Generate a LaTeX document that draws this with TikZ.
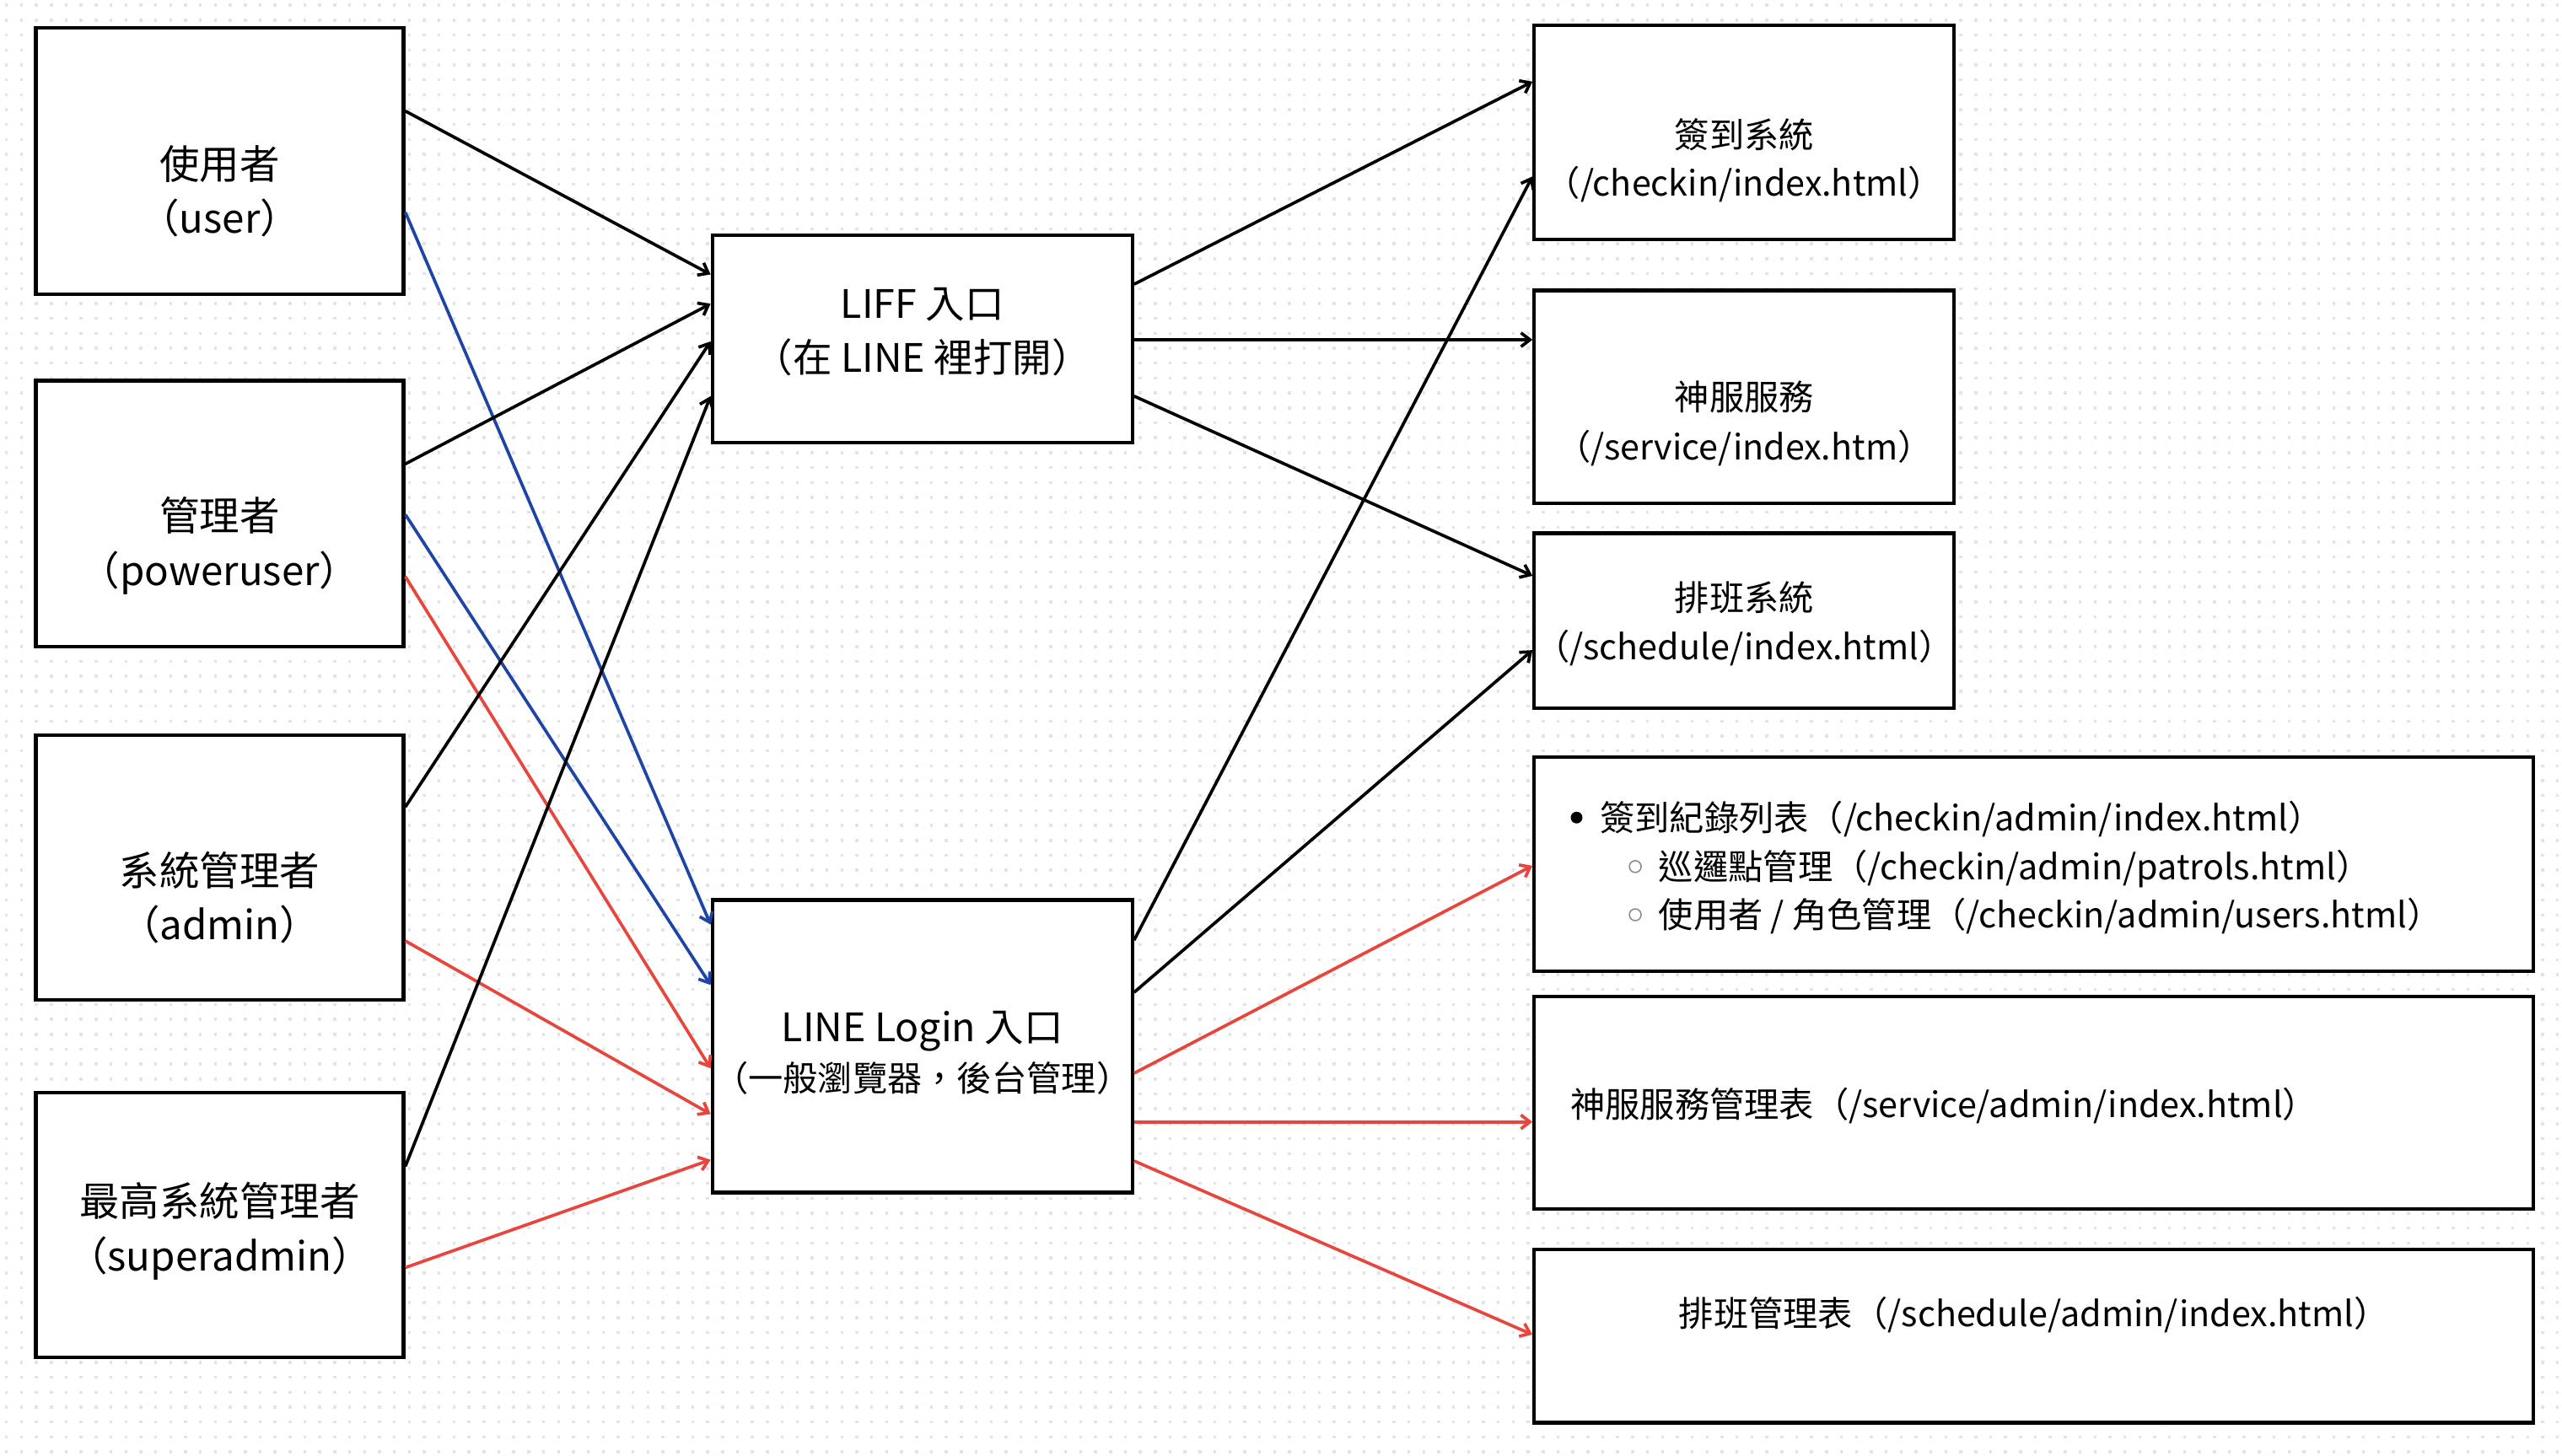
\documentclass[tikz,border=0pt]{standalone}
\usepackage{fontspec}
\setmainfont{Noto Sans CJK TC}
\usetikzlibrary{arrows.meta}
\definecolor{gridc}{HTML}{E2E3EA}
\definecolor{cred}{HTML}{E8453C}
\definecolor{cblue}{HTML}{1E45A6}
\definecolor{bulgray}{HTML}{8A8A8A}
\begin{document}
\begin{tikzpicture}[x=1pt,y=-1pt,
  box/.style={draw=black, line width=2.2pt, fill=white, rectangle, inner sep=0pt},
  conn/.style={line width=1.9pt, -{Straight Barb[length=5.5pt,width=8.5pt]}},
  cblk/.style={conn, draw=black},
  cblu/.style={conn, draw=cblue},
  cred/.style={conn, draw=cred},
  tl/.style={anchor=base, inner sep=0pt, font=\fontsize{24.5}{30}\selectfont},
  tm/.style={anchor=base, inner sep=0pt, font=\fontsize{24}{30}\selectfont},
  tms/.style={anchor=base, inner sep=0pt, font=\fontsize{21.3}{28}\selectfont},
  tr/.style={anchor=base, inner sep=0pt, font=\fontsize{21.3}{28}\selectfont},
  trw/.style={anchor=base west, inner sep=0pt, font=\fontsize{21.3}{28}\selectfont}
]
% canvas
\fill[white] (0,0) rectangle (1568,891.35);
\useasboundingbox (0,0) rectangle (1568,891.35);
% dot grid
\foreach \r in {0,...,97}{
  \draw[gridc, line width=1.8pt, dash pattern=on 1.8pt off 7.33pt]
    (3.1,{3.2+9.13*\r}) -- (1568,{3.2+9.13*\r});
}

% left column
\node[box, minimum width=225pt, minimum height=163pt] (user)  at (134.5,98.5) {};
\node[box, minimum width=225pt, minimum height=163pt] (power) at (134.5,314.5) {};
\node[box, minimum width=225pt, minimum height=162pt] (admin) at (134.5,531) {};
\node[box, minimum width=225pt, minimum height=162pt] (super) at (134.5,750) {};
% middle column
\node[box, minimum width=257pt, minimum height=127pt] (liff)  at (564.5,207.5) {};
\node[box, minimum width=257pt, minimum height=179pt] (login) at (564.5,640.5) {};
% right column
\node[box, minimum width=257pt, minimum height=131pt] (checkin)  at (1067.5,81) {};
\node[box, minimum width=257pt, minimum height=130.5pt] (service) at (1067.5,243) {};
\node[box, minimum width=257pt, minimum height=107pt] (schedule) at (1067.5,380) {};
\node[box, minimum width=611.5pt, minimum height=131pt] (chkadmin) at (1244.7,529) {};
\node[box, minimum width=611.5pt, minimum height=130pt] (svcadmin) at (1244.7,675) {};
\node[box, minimum width=611.5pt, minimum height=106pt] (schadmin) at (1244.7,818) {};

% connectors: roles -> entries
\draw[cblk] ([yshift=30.5pt]user.east)  -- ([yshift=39.5pt]liff.west);
\draw[cblu] ([yshift=-31.5pt]user.east) -- ([yshift=74.5pt]login.west);
\draw[cblk] ([yshift=30.5pt]power.east) -- ([yshift=21.5pt]liff.west);
\draw[cblu] ([yshift=-0.5pt]power.east) -- ([yshift=37.5pt]login.west);
\draw[cred] ([yshift=-38.5pt]power.east) -- ([yshift=-13.5pt]login.west);
\draw[cblk] ([yshift=37pt]admin.east)   -- ([yshift=-1.5pt]liff.west);
\draw[cred] ([yshift=-45pt]admin.east)  -- ([yshift=-41.5pt]login.west);
\draw[cblk] ([yshift=36pt]super.east)   -- ([yshift=-35pt]liff.west);
\draw[cred] ([yshift=-26pt]super.east)  -- ([yshift=-69.5pt]login.west);

% connectors: entries -> pages
\draw[cblk] ([yshift=33.5pt]liff.east)   -- ([yshift=31pt]checkin.west);
\draw[cblk] ([yshift=-0.5pt]liff.east)   -- ([yshift=35pt]service.west);
\draw[cblk] ([yshift=-35pt]liff.east)    -- ([yshift=27.5pt]schedule.west);
\draw[cblk] ([yshift=65pt]login.east)    -- ([yshift=-27pt]checkin.west);
\draw[cblk] ([yshift=33pt]login.east)    -- ([yshift=-18pt]schedule.west);
\draw[cred] ([yshift=-16.5pt]login.east) -- ([yshift=-1pt]chkadmin.west);
\draw[cred] ([yshift=-46.3pt]login.east) -- ([yshift=-11.8pt]svcadmin.west);
\draw[cred] ([yshift=-70.2pt]login.east) -- ([yshift=1pt]schadmin.west);

% texts: roles
\node[tl] (user-a)  at (134.5,109.6) {使用者};
\node[tl] (user-b)  at (134.5,142.6) {（user）};
\node[tl] (power-a) at (134.5,325.1) {管理者};
\node[tl] (power-b) at (134.5,358.6) {（poweruser）};
\node[tl] (admin-a) at (134.5,542.1) {系統管理者};
\node[tl] (admin-b) at (134.5,575.1) {（admin）};
\node[tl] (super-a) at (134.5,744.6) {最高系統管理者};
\node[tl] (super-b) at (134.5,778.1) {（superadmin）};
% texts: entries
\node[tm]  (liff-a)  at (564.5,194.9) {LIFF 入口};
\node[tm]  (liff-b)  at (564.5,227.9) {（在 LINE 裡打開）};
\node[tm]  (login-a) at (564.5,637.9) {LINE Login 入口};
\node[tms] (login-b) at (564.5,667.9) {（一般瀏覽器，後台管理）};
% texts: pages
\node[tr] (checkin-a)  at (1067.5,90.5)  {簽到系統};
\node[tr] (checkin-b)  at (1067.5,120)   {（/checkin/index.html）};
\node[tr] (service-a)  at (1067.5,251)   {神服服務};
\node[tr] (service-b)  at (1067.5,281.5) {（/service/index.htm）};
\node[tr] (schedule-a) at (1067.5,374)   {排班系統};
\node[tr] (schedule-b) at (1067.5,404)   {（/schedule/index.html）};
% list box
\fill[black] (964.9,500.5) circle (3.6pt);
\draw[bulgray, line width=0.8pt] (1000.8,530.5) circle (3.6pt);
\draw[bulgray, line width=0.8pt] (1000.8,560) circle (3.6pt);
\node[trw] (chk-1) at (979,508.5) {簽到紀錄列表（/checkin/admin/index.html）};
\node[trw] (chk-2) at (1015,538.5) {巡邏點管理（/checkin/admin/patrols.html）};
\node[trw] (chk-3) at (1015,568)   {使用者 / 角色管理（/checkin/admin/users.html）};
\node[trw] (svc-1) at (961,684)    {神服服務管理表（/service/admin/index.html）};
\node[tr]  (sch-1) at (1244.7,812) {排班管理表（/schedule/admin/index.html）};
\end{tikzpicture}
\end{document}
